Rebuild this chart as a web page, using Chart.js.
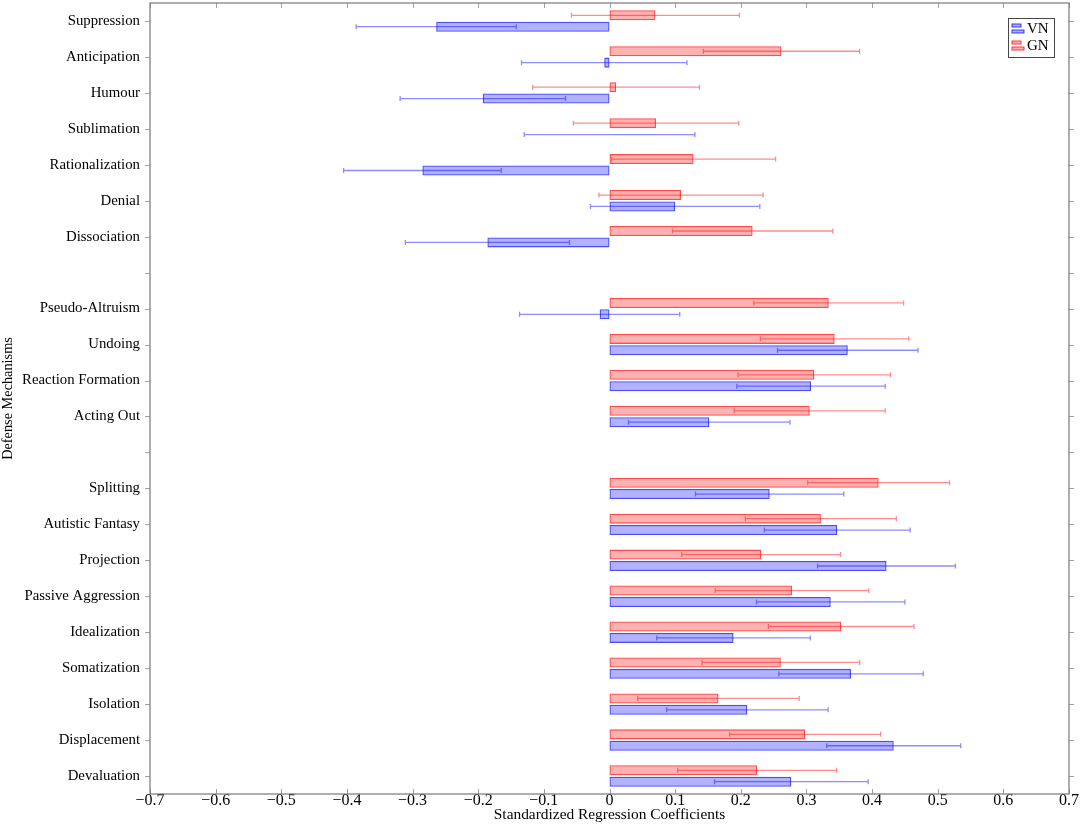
<!DOCTYPE html>
<html>
<head>
<meta charset="utf-8">
<script src="https://cdn.jsdelivr.net/npm/chart.js@4.4.0/dist/chart.umd.min.js"></script>
<style>
  html, body { margin: 0; padding: 0; background: #fff; }
  #chart { display: block; }
</style>
</head>
<body>
<canvas id="chart" width="1084" height="828"></canvas>
<script>
const categories = [
    'Suppression', 'Anticipation', 'Humour', 'Sublimation', 'Rationalization', 'Denial', 'Dissociation',
    '',
    'Pseudo-Altruism', 'Undoing', 'Reaction Formation', 'Acting Out',
    '',
    'Splitting', 'Autistic Fantasy', 'Projection', 'Passive Aggression', 'Idealization',
    'Somatization', 'Isolation', 'Displacement', 'Devaluation'
];

const vnValues = [-0.264, -0.008, -0.193, 0.0, -0.285, 0.100, -0.186, null, -0.015, 0.363, 0.307, 0.152, null,
    0.244, 0.347, 0.422, 0.337, 0.189, 0.368, 0.210, 0.433, 0.277];
const vnErrors = [0.122, 0.126, 0.126, 0.130, 0.120, 0.129, 0.125, null, 0.122, 0.107, 0.113, 0.123, null,
    0.113, 0.111, 0.105, 0.113, 0.117, 0.110, 0.123, 0.102, 0.117];

const gnValues = [0.070, 0.262, 0.010, 0.071, 0.128, 0.109, 0.218, null, 0.334, 0.343, 0.312, 0.305, null,
    0.410, 0.322, 0.231, 0.278, 0.353, 0.261, 0.166, 0.298, 0.225];
const gnErrors = [0.128, 0.119, 0.127, 0.126, 0.125, 0.125, 0.122, null, 0.114, 0.113, 0.116, 0.115, null,
    0.108, 0.115, 0.121, 0.117, 0.111, 0.120, 0.123, 0.115, 0.121];

const xMin = -0.7;
const xMax = 0.7;

const serif = "'Liberation Serif', 'DejaVu Serif', serif";
const axisGray = 'rgb(120, 120, 120)';
const tickGray = 'rgb(160, 160, 160)';

// error bars, frame, mirrored ticks and the in-plot legend
const decorations = {
    id: 'decorations',
    afterDatasetsDraw(chart) {
        const { ctx, scales: { x } } = chart;
        const errs = [gnErrors, vnErrors];
        const colors = ['rgba(255, 0, 0, 0.45)', 'rgba(0, 0, 255, 0.45)'];
        ctx.save();
        errs.forEach((err, di) => {
            const meta = chart.getDatasetMeta(di);
            const values = chart.data.datasets[di].data;
            meta.data.forEach((bar, i) => {
                if (values[i] == null || err[i] == null) return;
                const x0 = x.getPixelForValue(values[i] - err[i]);
                const x1 = x.getPixelForValue(values[i] + err[i]);
                const yc = bar.y;
                ctx.strokeStyle = colors[di];
                ctx.lineWidth = 1.3;
                ctx.beginPath();
                ctx.moveTo(x0, yc);
                ctx.lineTo(x1, yc);
                ctx.moveTo(x0, yc - 2.5);
                ctx.lineTo(x0, yc + 2.5);
                ctx.moveTo(x1, yc - 2.5);
                ctx.lineTo(x1, yc + 2.5);
                ctx.stroke();
            });
        });
        ctx.restore();
    },
    afterDraw(chart) {
        const { ctx, chartArea: a, scales: { x, y } } = chart;
        ctx.save();
        // ticks
        ctx.strokeStyle = tickGray;
        ctx.lineWidth = 1;
        ctx.beginPath();
        x.ticks.forEach((t, i) => {
            const px = Math.round(x.getPixelForTick(i)) + 0.5;
            ctx.moveTo(px, a.bottom);
            ctx.lineTo(px, a.bottom - 5);
            ctx.moveTo(px, a.top);
            ctx.lineTo(px, a.top + 5);
        });
        y.ticks.forEach((t, i) => {
            const py = Math.round(y.getPixelForTick(i)) + 0.5;
            ctx.moveTo(a.left - 5, py);
            ctx.lineTo(a.left, py);
            ctx.moveTo(a.right, py);
            ctx.lineTo(a.right + 5, py);
        });
        ctx.stroke();
        // frame
        ctx.strokeStyle = axisGray;
        ctx.lineWidth = 1.2;
        ctx.strokeRect(a.left, a.top, a.right - a.left, a.bottom - a.top);

        // legend
        const lx = a.right - 61, ly = a.top + 15, lw = 46, lh = 39;
        ctx.fillStyle = '#fff';
        ctx.fillRect(lx, ly, lw, lh);
        ctx.strokeStyle = 'rgb(70, 70, 70)';
        ctx.lineWidth = 1;
        ctx.strokeRect(lx + 0.5, ly + 0.5, lw, lh);
        const entries = [
            { label: 'VN', fill: 'rgba(0, 0, 255, 0.3)', stroke: 'rgba(0, 0, 255, 0.75)' },
            { label: 'GN', fill: 'rgba(255, 0, 0, 0.3)', stroke: 'rgba(255, 0, 0, 0.75)' }
        ];
        entries.forEach((e, i) => {
            const cy = ly + 11 + i * 17;
            ctx.fillStyle = e.fill;
            ctx.strokeStyle = e.stroke;
            ctx.lineWidth = 1;
            ctx.fillRect(lx + 4, cy - 5, 9, 3);
            ctx.strokeRect(lx + 4, cy - 5, 9, 3);
            ctx.fillRect(lx + 4, cy + 1, 12, 3);
            ctx.strokeRect(lx + 4, cy + 1, 12, 3);
            ctx.fillStyle = '#000';
            ctx.font = "15px " + serif;
            ctx.textBaseline = 'middle';
            ctx.textAlign = 'left';
            ctx.fillText(e.label, lx + 19, cy);
        });
        ctx.restore();
    }
};

function formatTick(value) {
    if (Math.abs(value) < 1e-9) return '0';
    const s = Math.abs(value).toFixed(1);
    return value < 0 ? '\u2212' + s : s;
}

const ctx = document.getElementById('chart').getContext('2d');
const chart = new Chart(ctx, {
    type: 'bar',
    data: {
        labels: categories,
        datasets: [
            {
                label: 'GN',
                data: gnValues,
                backgroundColor: 'rgba(255, 0, 0, 0.3)',
                borderColor: 'rgba(255, 0, 0, 0.7)',
                borderWidth: 1.3,
                borderSkipped: false
            },
            {
                label: 'VN',
                data: vnValues,
                backgroundColor: 'rgba(0, 0, 255, 0.3)',
                borderColor: 'rgba(0, 0, 255, 0.7)',
                borderWidth: 1.3,
                borderSkipped: false
            }
        ]
    },
    options: {
        indexAxis: 'y',
        responsive: false,
        animation: false,
        categoryPercentage: 0.634,
        barPercentage: 0.88,
        layout: {
            padding: { top: 3, right: 15, bottom: 0, left: 0 }
        },
        plugins: {
            legend: { display: false },
            tooltip: { enabled: false }
        },
        scales: {
            x: {
                type: 'linear',
                min: xMin,
                max: xMax,
                grid: { display: false, drawTicks: false },
                border: { display: false },
                ticks: {
                    stepSize: 0.1,
                    padding: -3,
                    color: '#000',
                    font: { family: serif, size: 16 },
                    callback: formatTick
                },
                title: {
                    display: true,
                    text: 'Standardized Regression Coefficients',
                    color: '#000',
                    font: { family: serif, size: 15.4 },
                    padding: { top: 0, bottom: 4 }
                },
                afterFit(scale) { scale.height = 34; }
            },
            y: {
                grid: { display: false, drawTicks: false },
                border: { display: false },
                ticks: {
                    padding: 10,
                    color: '#000',
                    autoSkip: false,
                    font: { family: serif, size: 14.8 }
                },
                title: {
                    display: true,
                    text: 'Defense Mechanisms',
                    color: '#000',
                    font: { family: serif, size: 14.3 },
                    padding: { top: 0, bottom: 0 }
                },
                afterFit(scale) {
                    scale.width = 150;
                    scale.paddingTop = 0;
                    scale.paddingBottom = 0;
                }
            }
        }
    },
    plugins: [decorations]
});
</script>
</body>
</html>
